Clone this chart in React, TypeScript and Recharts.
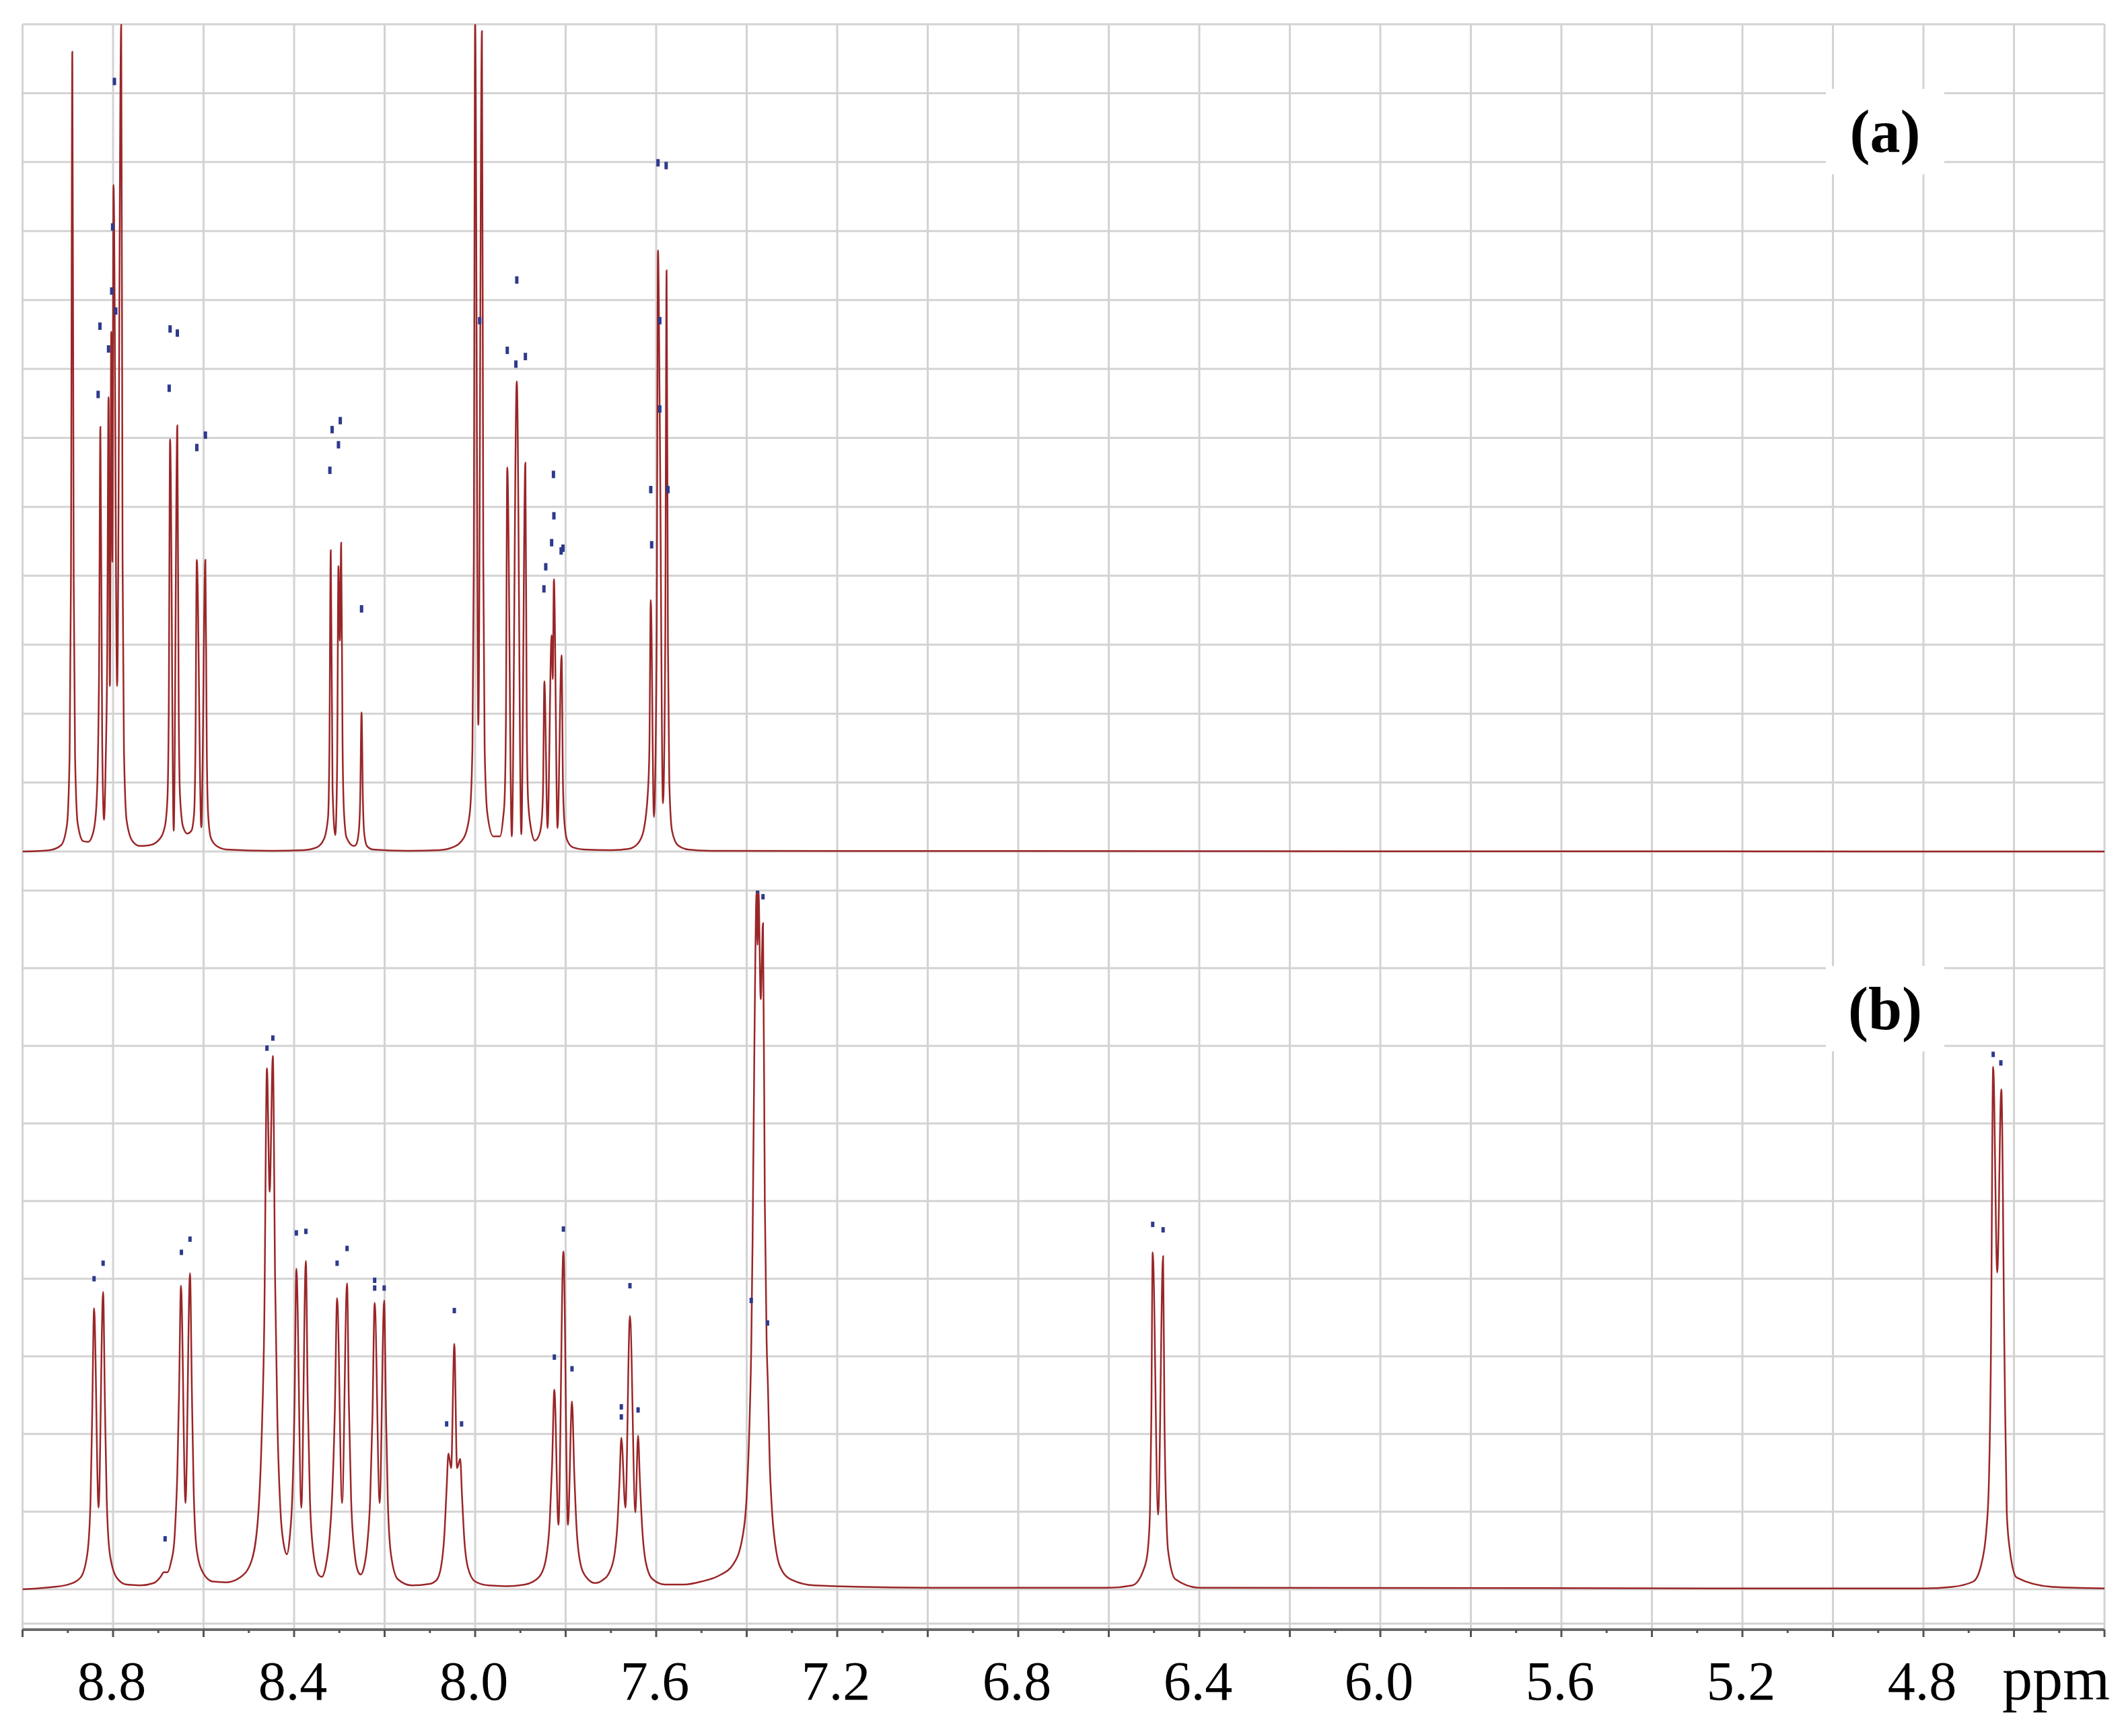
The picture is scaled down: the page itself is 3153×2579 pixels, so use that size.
import { CartesianGrid, ComposedChart, Line, ReferenceLine, Scatter, XAxis, YAxis } from 'recharts';

// spectrum (a): [ppm, intensity] vertices, left to right
const spectrumA: [number, number][] = [
  [9.0, 0.0], [8.94, 0.02], [8.915, 0.09], [8.902, 0.38], [8.896, 1.4], [8.893, 4.0],
  [8.89, 11.6], [8.887, 4.0], [8.884, 1.4], [8.878, 0.4], [8.866, 0.15], [8.855, 0.14],
  [8.845, 0.25], [8.838, 0.55], [8.834, 1.2], [8.831, 2.6], [8.828, 6.16], [8.824, 1.6],
  [8.82, 0.46], [8.816, 1.4], [8.813, 2.8], [8.81, 6.59], [8.807, 2.4], [8.804, 7.54],
  [8.8015, 4.2], [8.799, 9.67], [8.791, 2.4], [8.782, 12.0], [8.779, 4.2], [8.776, 1.5],
  [8.77, 0.45], [8.757, 0.15], [8.74, 0.08], [8.72, 0.09], [8.7, 0.16], [8.686, 0.35],
  [8.68, 0.75], [8.677, 2.0], [8.674, 5.98], [8.666, 0.3], [8.658, 6.18], [8.655, 2.1],
  [8.652, 0.8], [8.645, 0.35], [8.636, 0.26], [8.627, 0.3], [8.621, 0.55], [8.618, 1.5],
  [8.615, 4.23], [8.605, 0.35], [8.596, 4.23], [8.593, 1.5], [8.59, 0.55], [8.584, 0.2],
  [8.571, 0.08], [8.55, 0.03], [8.45, 0.01], [8.38, 0.02], [8.35, 0.06], [8.334, 0.18],
  [8.325, 0.5], [8.322, 1.5], [8.319, 4.37], [8.315, 0.9], [8.309, 0.24], [8.305, 1.2],
  [8.302, 4.14], [8.299, 3.06], [8.296, 4.48], [8.293, 1.6], [8.29, 0.6], [8.284, 0.2],
  [8.268, 0.08], [8.263, 0.1], [8.257, 0.3], [8.254, 0.75], [8.251, 2.02], [8.248, 0.75],
  [8.245, 0.26], [8.239, 0.08], [8.226, 0.03], [8.15, 0.01], [8.08, 0.02], [8.05, 0.06],
  [8.025, 0.2], [8.012, 0.55], [8.006, 1.5], [8.003, 4.2], [8.0, 12.0], [7.993, 1.84],
  [7.985, 11.9], [7.982, 4.2], [7.979, 1.5], [7.973, 0.55], [7.96, 0.22], [7.945, 0.22],
  [7.938, 0.5], [7.935, 0.75], [7.932, 1.9], [7.929, 5.57], [7.919, 0.22], [7.908, 6.82],
  [7.898, 0.25], [7.889, 5.64], [7.886, 1.9], [7.883, 0.75], [7.877, 0.35], [7.868, 0.16],
  [7.858, 0.25], [7.853, 0.45], [7.85, 0.9], [7.847, 2.47], [7.84, 0.34], [7.831, 3.14],
  [7.8285, 2.5], [7.826, 3.95], [7.818, 0.34], [7.809, 2.85], [7.806, 1.0], [7.803, 0.45],
  [7.797, 0.17], [7.784, 0.06], [7.76, 0.03], [7.7, 0.02], [7.66, 0.04], [7.64, 0.12],
  [7.628, 0.3], [7.618, 0.9], [7.615, 1.5], [7.612, 3.65], [7.605, 0.5], [7.599, 3.0],
  [7.596, 8.72], [7.592, 6.2], [7.585, 0.7], [7.58, 3.0], [7.577, 8.43], [7.574, 3.0],
  [7.571, 1.0], [7.565, 0.3], [7.552, 0.09], [7.53, 0.03], [7.48, 0.01], [4.4, 0.0],
];

// spectrum (b)
const spectrumB: [number, number][] = [
  [9.0, 0.0], [8.95, 0.02], [8.9, 0.06], [8.872, 0.15], [8.857, 0.45], [8.85, 1.1],
  [8.846, 2.3], [8.842, 3.62], [8.832, 1.05], [8.822, 3.83], [8.818, 2.4], [8.814, 1.15],
  [8.807, 0.45], [8.792, 0.15], [8.77, 0.06], [8.74, 0.05], [8.71, 0.08], [8.695, 0.16],
  [8.688, 0.22], [8.68, 0.22], [8.672, 0.35], [8.665, 0.6], [8.662, 0.9], [8.658, 1.5],
  [8.654, 2.6], [8.65, 3.91], [8.64, 1.11], [8.63, 4.07], [8.626, 2.6], [8.622, 1.3],
  [8.615, 0.5], [8.6, 0.2], [8.58, 0.1], [8.55, 0.09], [8.52, 0.15], [8.495, 0.35],
  [8.48, 0.9], [8.472, 1.9], [8.466, 3.4], [8.46, 6.71], [8.454, 5.12], [8.447, 6.87],
  [8.442, 4.0], [8.437, 2.2], [8.43, 1.0], [8.422, 0.55], [8.416, 0.45], [8.41, 0.65],
  [8.404, 1.2], [8.399, 2.4], [8.395, 4.13], [8.384, 1.05], [8.374, 4.23], [8.37, 2.5],
  [8.365, 1.15], [8.357, 0.45], [8.345, 0.18], [8.339, 0.16], [8.33, 0.3], [8.322, 0.65],
  [8.316, 1.2], [8.31, 2.3], [8.305, 3.75], [8.294, 1.11], [8.283, 3.94], [8.279, 2.4],
  [8.274, 1.15], [8.266, 0.45], [8.258, 0.22], [8.253, 0.19], [8.245, 0.3], [8.238, 0.6],
  [8.232, 1.15], [8.227, 2.2], [8.222, 3.69], [8.211, 1.11], [8.201, 3.72], [8.197, 2.3],
  [8.193, 1.15], [8.186, 0.45], [8.171, 0.13], [8.14, 0.05], [8.1, 0.07], [8.085, 0.12],
  [8.075, 0.3], [8.068, 0.7], [8.063, 1.3], [8.059, 1.75], [8.053, 1.56], [8.046, 3.16],
  [8.04, 1.56], [8.033, 1.68], [8.029, 1.2], [8.024, 0.65], [8.016, 0.28], [8.0, 0.1],
  [7.97, 0.05], [7.93, 0.04], [7.89, 0.06], [7.86, 0.15], [7.845, 0.35], [7.835, 0.9],
  [7.83, 1.6], [7.825, 2.57], [7.816, 0.83], [7.805, 4.35], [7.795, 0.83], [7.786, 2.42],
  [7.781, 1.5], [7.776, 0.8], [7.768, 0.35], [7.755, 0.16], [7.735, 0.08], [7.718, 0.12],
  [7.705, 0.2], [7.692, 0.45], [7.685, 0.9], [7.681, 1.4], [7.677, 1.95], [7.668, 1.05],
  [7.658, 3.52], [7.646, 0.99], [7.64, 1.98], [7.636, 1.4], [7.631, 0.8], [7.623, 0.35],
  [7.608, 0.13], [7.58, 0.06], [7.54, 0.06], [7.5, 0.1], [7.46, 0.18], [7.43, 0.32],
  [7.41, 0.65], [7.4, 1.2], [7.394, 2.1], [7.39, 3.1], [7.387, 4.5], [7.383, 7.0],
  [7.378, 9.0], [7.376, 8.3], [7.374, 8.99], [7.369, 7.6], [7.364, 8.58], [7.36, 5.0],
  [7.356, 3.2], [7.353, 2.6], [7.349, 1.6], [7.345, 1.1], [7.335, 0.5], [7.32, 0.22],
  [7.3, 0.12], [7.25, 0.05], [7.0, 0.02], [6.6, 0.02], [6.548, 0.05], [6.522, 0.27],
  [6.514, 0.49], [6.509, 1.0], [6.506, 2.2], [6.503, 4.34], [6.491, 0.96], [6.48, 4.29],
  [6.477, 2.2], [6.473, 1.0], [6.469, 0.5], [6.453, 0.13], [6.4, 0.02], [5.0, 0.01],
  [4.8, 0.01], [4.737, 0.03], [4.69, 0.1], [4.673, 0.3], [4.658, 1.0], [4.651, 3.0],
  [4.646, 6.73], [4.637, 4.08], [4.628, 6.44], [4.621, 3.0], [4.616, 1.0], [4.609, 0.5],
  [4.594, 0.15], [4.515, 0.03], [4.4, 0.01],
];

// small blue peak-pick markers
const peakMarksA: [number, number][] = [
  [8.829, 7.62], [8.81, 7.29], [8.833, 6.63], [8.803, 8.13], [8.801, 9.06], [8.797, 11.17],
  [8.794, 7.84], [8.674, 7.58], [8.658, 7.52], [8.676, 6.72], [8.615, 5.86], [8.596, 6.04],
  [8.316, 6.12], [8.298, 6.25], [8.302, 5.9], [8.321, 5.53], [8.251, 3.52], [7.99, 7.7],
  [7.929, 7.27], [7.91, 7.07], [7.889, 7.18], [7.908, 8.29], [7.827, 5.47], [7.826, 4.87],
  [7.831, 4.48], [7.844, 4.13], [7.848, 3.81], [7.81, 4.36], [7.806, 4.4], [7.596, 9.99],
  [7.578, 9.95], [7.612, 5.25], [7.61, 4.45], [7.592, 6.42], [7.574, 5.25], [7.592, 7.7],
];

const peakMarksB: [number, number][] = [
  [8.842, 4.0], [8.822, 4.2], [8.685, 0.65], [8.649, 4.34], [8.63, 4.51], [8.46, 6.97],
  [8.447, 7.1], [8.395, 4.59], [8.374, 4.61], [8.305, 4.2], [8.283, 4.39], [8.222, 3.88],
  [8.222, 3.98], [8.201, 3.88], [8.046, 3.59], [8.063, 2.13], [8.03, 2.13], [7.825, 2.99],
  [7.805, 4.64], [7.786, 2.84], [7.677, 2.35], [7.677, 2.22], [7.658, 3.91], [7.64, 2.31],
  [7.39, 3.72], [7.376, 9.0], [7.364, 8.92], [7.354, 3.43], [6.503, 4.7], [6.48, 4.63],
  [4.646, 6.89], [4.629, 6.78],
];

const axisLabels = [8.8, 8.4, 8.0, 7.6, 7.2, 6.8, 6.4, 6.0, 5.6, 5.2, 4.8];
const unitLabel = 'ppm';
const panelLabels = ['(a)', '(b)'];

const X_DOMAIN: [number, number] = [4.4, 9.0];
const minorTicks = Array.from({ length: 47 }, (_, i) => Number((9 - i * 0.1).toFixed(1)));
const gridTicks = minorTicks.filter((_, i) => i % 2 === 0);
const ticksA = [0, 1, 2, 3, 4, 5, 6, 7, 8, 9, 10, 11, 12];
const ticksB = [0, 1, 2, 3, 4, 5, 6, 7, 8, 9];

const LINE = '#9a2628';
const GRID = '#d3d3d3';
const MARK = '#2e3a8c';
const SERIF = '"Liberation Serif", "Times New Roman", serif';

const rows = (pts: [number, number][]) => pts.map(([ppm, v]) => ({ ppm, v }));

const markShape = (h: number) => (props: any) => (
  <rect x={props.cx - 2.5} y={props.cy - h / 2} width={5} height={h} fill={MARK} />
);

const PpmTick = (props: any) => {
  const { x, y, payload } = props;
  const v = payload.value;
  const tenth = Math.round(v * 10);
  const major = tenth % 2 === 0;
  const label = axisLabels.find((l) => Math.abs(l - v) < 1e-6);
  return (
    <g>
      <line x1={x} x2={x} y1={y} y2={y + (major ? 11 : 5)} stroke="#555" strokeWidth={3} />
      {label !== undefined && (
        <text x={x - 2} y={y + 104} textAnchor="middle" fontFamily={SERIF} fontSize={82} fill="#000">
          {label.toFixed(1)}
        </text>
      )}
      {tenth === 44 && (
        <text x={x - 152} y={y + 104} fontFamily={SERIF} fontSize={90} fill="#000">
          {unitLabel}
        </text>
      )}
    </g>
  );
};

const labelBox = (top: number): React.CSSProperties => ({
  position: 'absolute',
  left: 2705,
  top,
  width: 176,
  height: 127,
  background: '#fff',
  font: `bold 90px ${SERIF}`,
  lineHeight: '127px',
  textAlign: 'center',
  color: '#000',
});

export default function App() {
  return (
    <div style={{ position: 'relative', width: 3145, height: 2563, background: '#fff' }}>
      <ComposedChart width={3145} height={1315} margin={{ top: 28, right: 26, bottom: 0, left: 25.5 }}>
        <CartesianGrid stroke={GRID} strokeWidth={3} />
        <XAxis dataKey="ppm" type="number" domain={X_DOMAIN} reversed ticks={gridTicks} hide allowDataOverflow />
        <YAxis dataKey="v" type="number" domain={[-0.566, 12]} ticks={ticksA} hide allowDataOverflow />
        <Line data={rows(spectrumA)} dataKey="v" type="monotoneX" stroke={LINE} strokeWidth={2.5}
          dot={false} activeDot={false} isAnimationActive={false} />
        <Scatter data={rows(peakMarksA)} dataKey="v" shape={markShape(11)} isAnimationActive={false} />
      </ComposedChart>

      <ComposedChart width={3145} height={1248} margin={{ top: 0, right: 26, bottom: 0, left: 25.5 }}>
        <CartesianGrid xAxisId="grid" stroke={GRID} strokeWidth={3} />
        <XAxis xAxisId="grid" dataKey="ppm" type="number" domain={X_DOMAIN} reversed ticks={gridTicks} hide allowDataOverflow />
        <XAxis dataKey="ppm" type="number" domain={X_DOMAIN} reversed ticks={minorTicks} interval={0}
          height={150} tick={(p: any) => <PpmTick {...p} />} tickLine={false} tickSize={0} tickMargin={0}
          axisLine={{ stroke: '#6b6b6b', strokeWidth: 4 }} allowDataOverflow />
        <YAxis dataKey="v" type="number" domain={[-0.52, 9]} ticks={ticksB} hide allowDataOverflow />
        <ReferenceLine y={-0.442} stroke={GRID} strokeWidth={3} />
        <Line data={rows(spectrumB)} dataKey="v" type="monotoneX" stroke={LINE} strokeWidth={2.5}
          dot={false} activeDot={false} isAnimationActive={false} />
        <Scatter data={rows(peakMarksB)} dataKey="v" shape={markShape(8)} isAnimationActive={false} />
      </ComposedChart>

      <div style={labelBox(124)}>{panelLabels[0]}</div>
      <div style={labelBox(1427)}>{panelLabels[1]}</div>
    </div>
  );
}
